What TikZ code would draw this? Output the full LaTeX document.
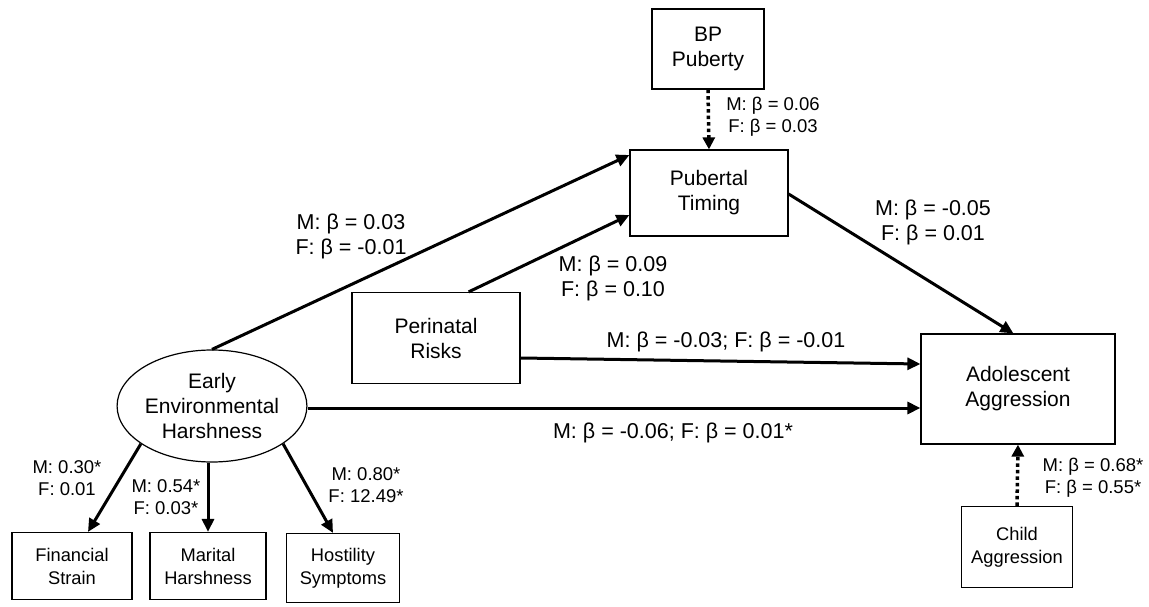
\documentclass[tikz,border=0pt]{standalone}
\usepackage{fontspec}
\setmainfont{Liberation Sans}
\usetikzlibrary{shapes.geometric,arrows.meta}

\begin{document}
\begin{tikzpicture}[x=1pt,y=-1pt,
        var/.style={draw,line width=1.2pt,align=center,inner sep=0pt,font=\fontsize{21}{25}\selectfont},
        smallvar/.style={var,font=\fontsize{18.3}{23}\selectfont},
        path/.style={line width=3pt,-{Triangle[length=13pt,width=12pt]}},
        control/.style={line width=3.5pt,dash pattern=on 3.5pt off 3pt,-{Triangle[length=12pt,width=12pt]}},
        coef/.style={align=center,font=\fontsize{21.5}{25}\selectfont},
        coefsm/.style={align=center,font=\fontsize{18.5}{22}\selectfont}]
        \useasboundingbox (0,0) rectangle (1149,607);

        % variables
        \node[var,minimum width=112pt,minimum height=80pt] (bp) at (708,49) {BP\\Puberty};
        \node[var,minimum width=158pt,minimum height=86pt] (timing) at (709,193) {Pubertal\\Timing};
        \node[var,minimum width=168pt,minimum height=91pt] (perinatal) at (436,338) {Perinatal\\Risks};
        \node[var,minimum width=194pt,minimum height=110pt] (aggr) at (1018,389) {Adolescent\\Aggression};
        \node[smallvar,minimum width=111pt,minimum height=81pt] (child) at (1017,547) {Child\\Aggression};
        \node[var,ellipse,minimum width=179pt,minimum height=112pt] (harsh) at (212,406) {Early\\Environmental\\Harshness};
        \node[smallvar,minimum width=120pt,minimum height=67pt] (finance) at (72,566) {Financial\\Strain};
        \node[smallvar,minimum width=116pt,minimum height=67pt] (marital) at (208,566) {Marital\\Harshness};
        \node[smallvar,minimum width=113pt,minimum height=69pt] (hostile) at (343,568) {Hostility\\Symptoms};

        % structural paths
        \draw[path] (harsh.north) -- (timing.west |- 0,155);
        \draw[path] ([xshift=-52pt]perinatal.north east) -- (timing.west |- 0,215);
        \draw[path] (perinatal.east |- 0,358) -- (aggr.west |- 0,364);
        \draw[path] ([yshift=-2pt]harsh.east) -- (aggr.west |- 0,408);
        \draw[path] (timing.east |- 0,194) -- ([xshift=93pt]aggr.north west);
        \draw[control] (bp.south) -- (timing.north);
        \draw[control] (child.north) -- (aggr.south);

        % measurement paths
        \draw[path] (harsh.-152) -- ([xshift=16pt]finance.north);
        \draw[path] (harsh.south -| marital.north) -- (marital.north);
        \draw[path] (harsh.-28) -- ([xshift=-10pt]hostile.north);

        % coefficients
        \node[coef] at (351,236) {M: β = 0.03\\F: β = -0.01};
        \node[coef] at (613,278) {M: β = 0.09\\F: β = 0.10};
        \node[coef] at (933,222) {M: β = -0.05\\F: β = 0.01};
        \node[coef] at (726,342) {M: β = -0.03; F: β = -0.01};
        \node[coef] at (673,433) {M: β = -0.06; F: β = 0.01*};
        \node[coefsm] at (773,117) {M: β = 0.06\\F: β = 0.03};
        \node[coefsm] at (1093,478) {M: β = 0.68*\\F: β = 0.55*};
        \node[coefsm] at (67,478) {M: 0.30*\\F: 0.01};
        \node[coefsm] at (166,497) {M: 0.54*\\F: 0.03*};
        \node[coefsm] at (366,485) {M: 0.80*\\F: 12.49*};
    \end{tikzpicture}
\end{document}
